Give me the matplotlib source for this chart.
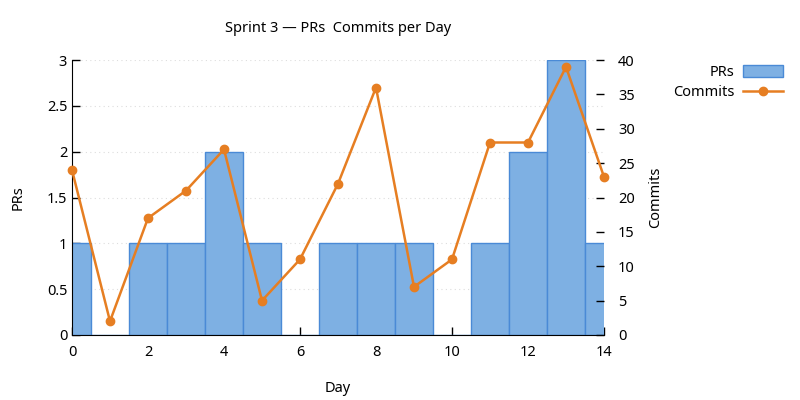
import matplotlib
matplotlib.use("Agg")
import matplotlib.pyplot as plt
from matplotlib.patches import Patch
from matplotlib.lines import Line2D

plt.rcParams['font.family'] = ['Noto Sans', 'DejaVu Sans']
plt.rcParams['font.size'] = 10.5

dias = list(range(15))
prs = [1, 0, 1, 1, 2, 1, 0, 1, 1, 1, 0, 1, 2, 3, 1]
commits = [24, 2, 17, 21, 27, 5, 11, 22, 36, 7, 11, 28, 28, 39, 23]

color_barra = '#7eb0e3'
borde_barra = '#4a8ad6'
color_linea = '#e67e22'

fig = plt.figure(figsize=(8, 4), dpi=100)
ax = fig.add_axes([0.09, 0.1625, 0.665, 0.6875])

ax.bar(dias, prs, width=1.0, color=color_barra, edgecolor=borde_barra, linewidth=1, zorder=2)
ax.set_xlim(0, 14)
ax.set_ylim(0, 3)
ax.set_yticks([0, 0.5, 1, 1.5, 2, 2.5, 3])
ax.set_yticklabels(['0', '0.5', '1', '1.5', '2', '2.5', '3'])
ax.set_xticks(range(0, 15, 2))
ax.grid(axis='y', color='#dddddd', linestyle=(0, (1, 3)), linewidth=0.8, zorder=0)
ax.set_axisbelow(True)
ax.tick_params(direction='in', length=6, width=1, color='black')
ax.tick_params(axis='x', pad=7)
ax.spines['top'].set_visible(False)
ax.spines['right'].set_visible(False)
ax.set_xlabel('Day', labelpad=15)
ax.set_ylabel('PRs', labelpad=15)

ax2 = ax.twinx()
ax2.plot(dias, commits, color=color_linea, linewidth=1.8, marker='o', markersize=6, zorder=3, clip_on=False)
ax2.set_ylim(0, 40)
ax2.set_yticks(range(0, 45, 5))
ax2.tick_params(direction='in', length=6, width=1, color='black', pad=10)
for s in ['top', 'right', 'left', 'bottom']:
    ax2.spines[s].set_visible(False)
ax2.set_ylabel('Commits', labelpad=10)

ax.set_title('Sprint 3 — PRs  Commits per Day', fontsize=10.5, pad=20)

handles = [Patch(facecolor=color_barra, edgecolor=borde_barra),
           Line2D([], [], color=color_linea, linewidth=1.8, marker='o', markersize=6)]
fig.legend(handles, ['PRs', 'Commits'], loc='upper right', bbox_to_anchor=(0.979, 0.837),
           frameon=False, markerfirst=False, handlelength=2.75, handleheight=0.9,
           labelspacing=0.35, borderpad=0, borderaxespad=0, handletextpad=0.6)

fig.savefig('out.png', dpi=100)
